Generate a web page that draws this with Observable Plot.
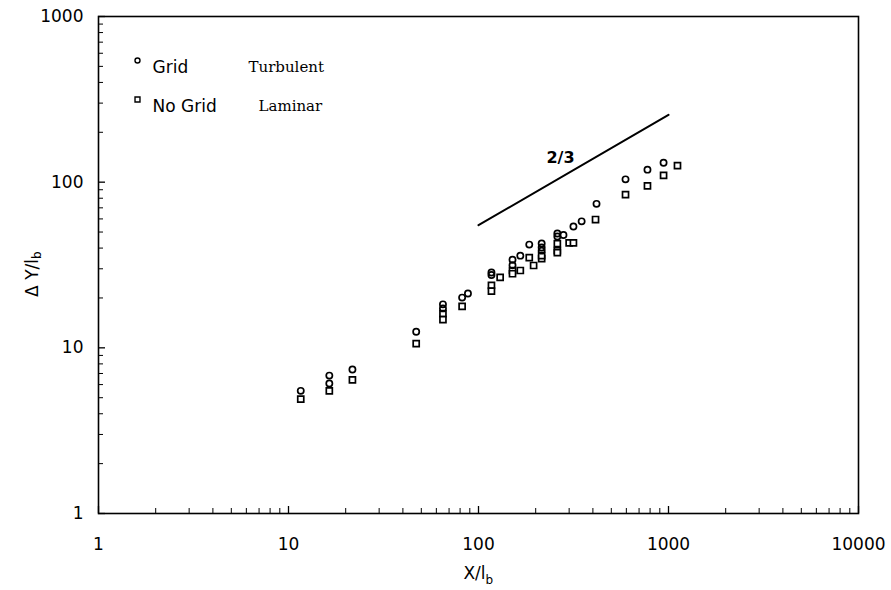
<!DOCTYPE html>
<html><head><meta charset="utf-8">
<script src="https://cdn.jsdelivr.net/npm/d3@7"></script>
<script src="https://cdn.jsdelivr.net/npm/@observablehq/plot@0.6"></script>
<style>body{margin:0;background:#fff}</style>
</head><body><div id="chart"></div>
<script>
// Grid (turbulent) – circles
const gridX = [11.6, 16.4, 16.4, 21.7, 47, 65, 65, 82, 88, 117, 117, 151, 151, 166, 185, 215, 215, 215, 260, 260, 280, 316, 349, 418, 594, 775, 942];
const gridY = [5.5, 6.8, 6.1, 7.4, 12.5, 18.3, 17.3, 20.1, 21.3, 28.5, 27.5, 34, 31.5, 36, 42, 42.6, 40.3, 38.6, 49, 47, 48, 54, 58, 74, 104, 119, 131];
// No grid (laminar) – squares
const noGridX = [11.6, 16.4, 21.7, 47, 65, 65, 82, 117, 117, 130, 151, 151, 166, 185, 195, 215, 215, 260, 260, 260, 300, 316, 413, 594, 775, 942, 1115];
const noGridY = [4.9, 5.5, 6.4, 10.6, 16.1, 14.8, 17.8, 23.8, 22, 26.6, 29.3, 28, 29.3, 35, 31.4, 34.6, 36, 42.6, 38.6, 37.6, 43, 43, 59.5, 84, 95, 110, 126];
// reference slope line (2/3)
const slopeX = [100, 1000];
const slopeY = [55, 255];
const slopeLabel = [{x: 270, y: 141, text: "2/3"}];
// tick labels
const xTickLabels = [1, 10, 100, 1000, 10000];
const yTickLabels = [1, 10, 100, 1000];
const legendLabels = ["Grid", "No Grid"];
const legendNotes = ["Turbulent", "Laminar"];

const minorOf = (decades) => decades.flatMap(d => [2,3,4,5,6,7,8,9].map(m => m * d));
const xMinor = minorOf([1, 10, 100, 1000]);
const yMinor = minorOf([1, 10, 100]);

const grid = gridX.map((x, i) => ({x, y: gridY[i]}));
const noGrid = noGridX.map((x, i) => ({x, y: noGridY[i]}));
const slope = slopeX.map((x, i) => ({x, y: slopeY[i]}));

const W = 891, H = 590, mL = 98, mR = 33, mT = 16, mB = 77;
const fw = W - mL - mR, fh = H - mT - mB;
const sans = "DejaVu Sans, Liberation Sans, Arial, sans-serif";
const serif = "DejaVu Serif, Liberation Serif, serif";

const chart = Plot.plot({
  width: W, height: H,
  marginLeft: mL, marginRight: mR, marginTop: mT, marginBottom: mB,
  style: {fontFamily: sans, fontSize: "17px", color: "black", background: "white"},
  x: {type: "log", domain: [1, 10000], axis: null},
  y: {type: "log", domain: [1, 1000], axis: null},
  marks: [
    Plot.frame({stroke: "black", strokeWidth: 1.6}),
    // inward ticks
    Plot.tickX(xMinor, {x: d => d, insetTop: fh - 5, stroke: "black", strokeWidth: 1}),
    Plot.tickX(xTickLabels, {x: d => d, insetTop: fh - 7, stroke: "black", strokeWidth: 1.3}),
    Plot.tickY(yMinor, {y: d => d, insetRight: fw - 5, stroke: "black", strokeWidth: 1}),
    Plot.tickY(yTickLabels, {y: d => d, insetRight: fw - 7, stroke: "black", strokeWidth: 1.3}),
    // tick labels
    Plot.axisX(xTickLabels, {tickSize: 0, tickPadding: 24, tickFormat: d => String(d), label: null, fontSize: 17}),
    Plot.axisY(yTickLabels, {tickSize: 0, tickPadding: 15, tickFormat: d => String(d), label: null, fontSize: 17}),
    // axis titles
    Plot.text(["X/l"], {frameAnchor: "bottom", textAnchor: "end", dx: 7, dy: 65, fontSize: 17}),
    Plot.text(["b"], {frameAnchor: "bottom", textAnchor: "start", dx: 7, dy: 70, fontSize: 12}),
    Plot.text(["\u0394 Y/l"], {frameAnchor: "left", textAnchor: "end", rotate: -90, dx: -66, dy: -6, fontSize: 17}),
    Plot.text(["b"], {frameAnchor: "left", textAnchor: "start", rotate: -90, dx: -61, dy: -6, fontSize: 12}),
    // data
    Plot.line(slope, {x: "x", y: "y", stroke: "black", strokeWidth: 2}),
    Plot.text(slopeLabel, {x: "x", y: "y", text: "text", fontSize: 16, fontWeight: "bold"}),
    Plot.dot(noGrid, {x: "x", y: "y", symbol: "square", r: 3.4, stroke: "black", strokeWidth: 1.7, fill: "white"}),
    Plot.dot(grid, {x: "x", y: "y", symbol: "circle", r: 3.1, stroke: "black", strokeWidth: 1.7, fill: "none"}),
    // legend
    Plot.dot([0], {frameAnchor: "top-left", dx: 39, dy: 44, symbol: "circle", r: 2.5, stroke: "black", strokeWidth: 1.4}),
    Plot.dot([0], {frameAnchor: "top-left", dx: 39, dy: 83, symbol: "square", r: 2.8, stroke: "black", strokeWidth: 1.4}),
    Plot.text([legendLabels[0]], {frameAnchor: "top-left", textAnchor: "start", dx: 54, dy: 44, fontSize: 17}),
    Plot.text([legendLabels[1]], {frameAnchor: "top-left", textAnchor: "start", dx: 54, dy: 83, fontSize: 17}),
    Plot.text([legendNotes[0]], {frameAnchor: "top-left", textAnchor: "start", dx: 150, dy: 45, fontSize: 15, fontFamily: serif}),
    Plot.text([legendNotes[1]], {frameAnchor: "top-left", textAnchor: "start", dx: 160, dy: 84, fontSize: 15, fontFamily: serif})
  ]
});
document.getElementById("chart").append(chart);
</script>
</body></html>
